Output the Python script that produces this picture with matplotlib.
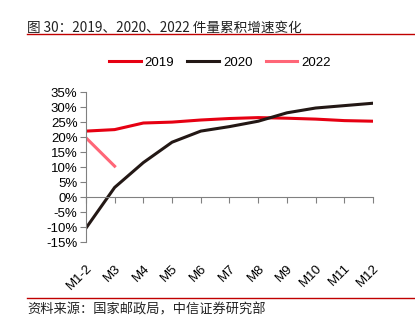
import matplotlib.pyplot as plt
from matplotlib.lines import Line2D

plt.rcParams['font.family'] = ['Liberation Sans', 'Noto Sans CJK SC', 'DejaVu Sans']

months = ['M1-2', 'M3', 'M4', 'M5', 'M6', 'M7', 'M8', 'M9', 'M10', 'M11', 'M12']
y2019 = [22.0, 22.5, 24.7, 25.0, 25.7, 26.2, 26.5, 26.3, 26.0, 25.5, 25.3]
y2020 = [-10.4, 3.2, 11.5, 18.3, 22.0, 23.5, 25.3, 28.1, 29.7, 30.5, 31.3]
y2022 = [19.8, 10.3]

fig = plt.figure(figsize=(4.15, 3.21), dpi=100)
ax = fig.add_axes([0.207, 0.246, 0.692, 0.467])

# spine position first, it resets tick styling
for s in ['top', 'right']:
    ax.spines[s].set_visible(False)
ax.spines['bottom'].set_position(('data', 0))
ax.spines['left'].set_color('#808080')
ax.spines['bottom'].set_color('#808080')

x = list(range(len(months)))
ax.plot(x, y2019, color='#E60012', lw=2.2, label='2019')
ax.plot(x, y2020, color='#231815', lw=2.2, label='2020')
ax.plot(x[:len(y2022)], y2022, color='#FF6677', lw=2.2, label='2022')

ax.set_xlim(0, 10)
ax.set_ylim(-15, 35)
ax.set_yticks(range(-15, 40, 5))
ax.set_yticklabels([f'{v}%' for v in range(-15, 40, 5)], fontsize=9.5)
ax.set_xticks(x)
ax.tick_params(axis='both', color='#808080', length=4, width=0.8, pad=2)
ax.tick_params(axis='x', pad=43)
ax.set_xticklabels(months, rotation=45, ha='right', va='top', rotation_mode='anchor', fontsize=9.5)

handles = [Line2D([], [], color='#E60012', lw=2.2),
           Line2D([], [], color='#231815', lw=2.2),
           Line2D([], [], color='#FF6677', lw=2.2)]
fig.legend(handles, ['2019', '2020', '2022'], loc='center', bbox_to_anchor=(0.53, 0.805),
           ncol=3, frameon=False, fontsize=9.5, handlelength=2.4, columnspacing=1.0,
           handletextpad=0.3)

fig.text(0.065, 0.913, '图 30：2019、2020、2022 件量累积增速变化', fontsize=9.8,
         family=['Noto Sans CJK SC', 'DejaVu Sans'], color='#222222', va='center')
fig.add_artist(Line2D([0.065, 1.0], [0.895, 0.895], color='#C00000', lw=1))
fig.add_artist(Line2D([0.065, 1.0], [0.072, 0.072], color='#C00000', lw=1))
fig.text(0.065, 0.035, '资料来源：国家邮政局，中信证券研究部', fontsize=9.5,
         family=['Noto Sans CJK SC', 'DejaVu Sans'], color='#222222', va='center')

fig.savefig('out.png', dpi=100)
